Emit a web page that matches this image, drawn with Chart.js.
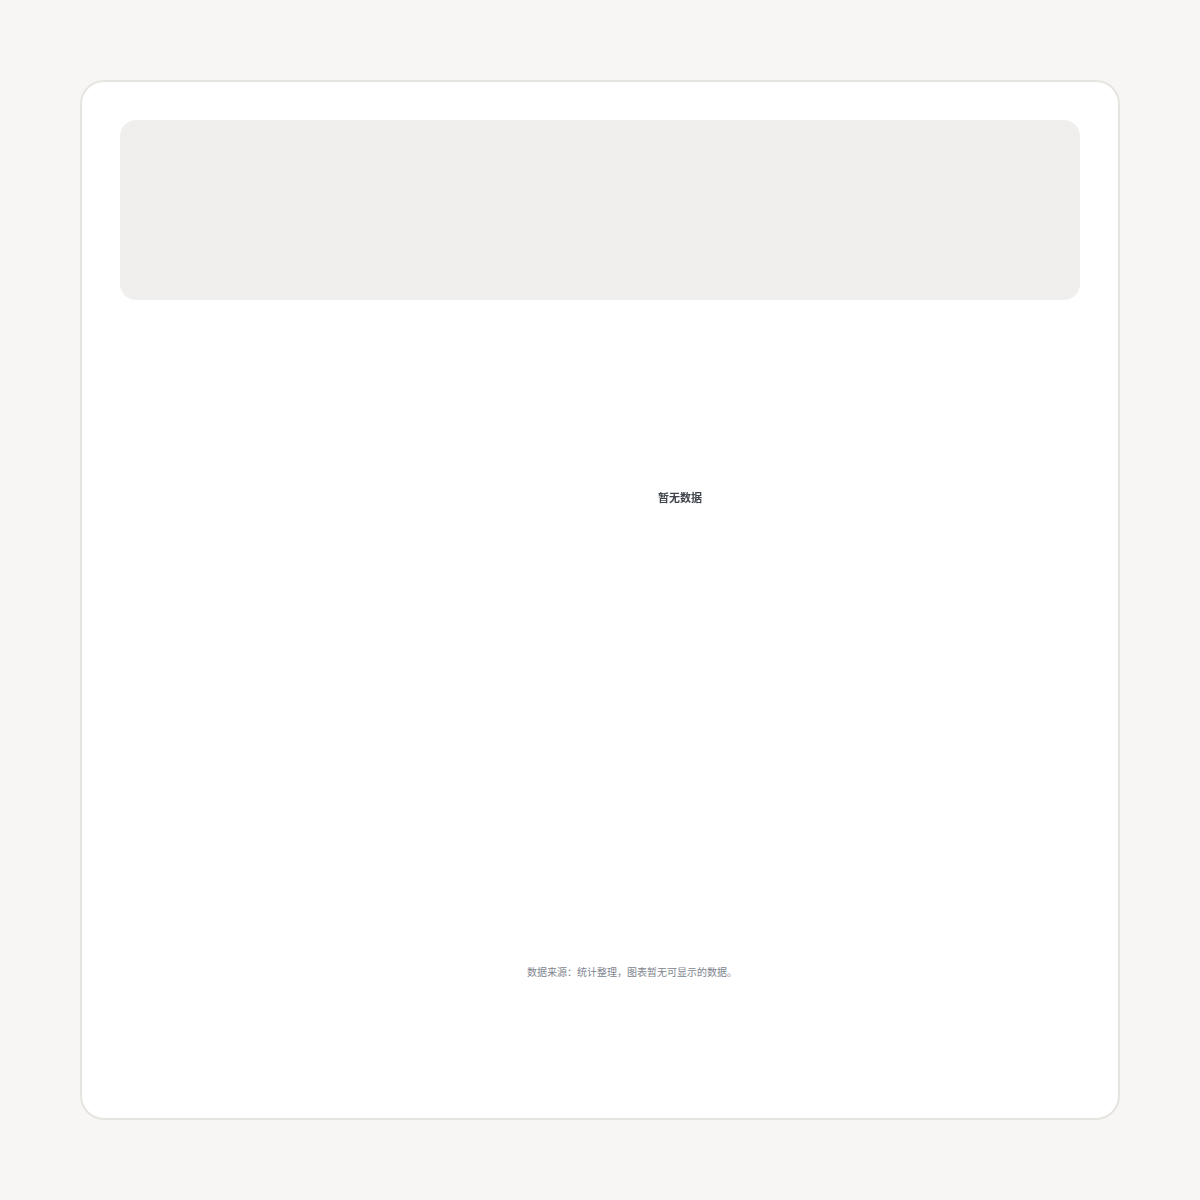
<!DOCTYPE html>
<html lang="zh">
<head>
    <meta charset="UTF-8">
    <title>暂无数据</title>
    <script src="https://cdn.jsdelivr.net/npm/chart.js"></script>
    <style>
        body {
            margin: 0;
            padding: 80px;
            background-color: #f7f6f4;
            font-family: 'Noto Sans CJK SC', 'Noto Sans', sans-serif;
        }

        .card {
            box-sizing: border-box;
            width: 1040px;
            height: 1040px;
            background: #fff;
            border: 2px solid #e6e4e1;
            border-radius: 24px;
            padding: 38px;
        }

        .header {
            height: 180px;
            background-color: #f0efed;
            border-radius: 16px;
        }

        .chart-box {
            position: relative;
            height: 356px;
            margin-top: 20px;
        }

        .note {
            margin-top: 288px;
            padding-left: 64px;
            text-align: center;
            font-size: 10px;
            color: #80848e;
        }
    </style>
</head>
<body>
    <div class="card">
        <div class="header"></div>
        <div class="chart-box">
            <canvas id="chart"></canvas>
        </div>
        <div class="note" id="note"></div>
    </div>

    <script>
        // the reference shows an empty chart
        const categories = [];
        const values = [];
        const emptyText = '暂无数据';
        const noteText = '数据来源：统计整理，图表暂无可显示的数据。';

        document.getElementById('note').textContent = noteText;

        // draws the empty-state message in the middle of the chart area
        const emptyState = {
            id: 'emptyState',
            afterDraw(chart) {
                const data = chart.data.datasets[0].data;
                if (data.length) return;
                const { ctx, chartArea } = chart;
                ctx.save();
                ctx.font = '600 11px "Noto Sans CJK SC", sans-serif';
                ctx.fillStyle = '#3f434c';
                ctx.textAlign = 'center';
                ctx.textBaseline = 'middle';
                ctx.fillText(emptyText, (chartArea.left + chartArea.right) / 2, (chartArea.top + chartArea.bottom) / 2);
                ctx.restore();
            }
        };

        new Chart(document.getElementById('chart'), {
            type: 'doughnut',
            data: {
                labels: categories,
                datasets: [{
                    data: values,
                    backgroundColor: ['#5b8ff9', '#5ad8a6', '#f6bd16']
                }]
            },
            options: {
                responsive: true,
                maintainAspectRatio: false,
                animation: false,
                layout: { padding: { left: 160 } },
                plugins: {
                    legend: { display: false },
                    tooltip: { enabled: false }
                }
            },
            plugins: [emptyState]
        });
    </script>
</body>
</html>
